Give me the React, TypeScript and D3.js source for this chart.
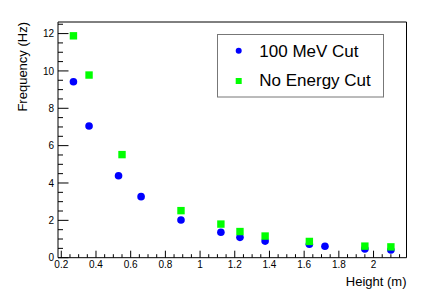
import React from "react";
import * as d3 from "d3";

const cutX = [0.27, 0.36, 0.53, 0.66, 0.89, 1.12, 1.23, 1.375, 1.63, 1.72, 1.95, 2.1];
const cutY = [9.42, 7.05, 4.39, 3.27, 2.02, 1.36, 1.09, 0.89, 0.72, 0.61, 0.47, 0.41];
const noCutX = [0.27, 0.36, 0.55, 0.89, 1.12, 1.23, 1.375, 1.63, 1.95, 2.1];
const noCutY = [11.88, 9.78, 5.52, 2.52, 1.8, 1.4, 1.16, 0.87, 0.62, 0.58];
const xTickLabels = [0.2, 0.4, 0.6, 0.8, 1, 1.2, 1.4, 1.6, 1.8, 2];
const yTickLabels = [0, 2, 4, 6, 8, 10, 12];
const seriesNames = ["100 MeV Cut", "No Energy Cut"];

const W = 436;
const H = 295;
const L = 58;
const R = 406.5;
const T = 22;
const B = 257.7;
const FONT = "'Liberation Sans', Arial, Helvetica, sans-serif";

export default function App() {
  const x = d3.scaleLinear().domain([0.181, 2.19]).range([L, R]);
  const y = d3.scaleLinear().domain([0, 12.62]).range([B, T]);

  const xMinor = d3.range(0.2, 2.19, 0.05).filter((v) => v <= 2.19);
  const yMinor = d3.range(0, 12.62, 0.5);

  return (
    <svg
      width={W}
      height={H}
      style={{ position: "absolute", left: 0, top: 0, background: "#fff" }}
      fontFamily={FONT}
    >
      <rect x={0} y={0} width={W} height={H} fill="#fff" />
      {/* frame */}
      <line x1={L} y1={T} x2={R} y2={T} stroke="#000" strokeWidth={1} />
      <line x1={R} y1={T} x2={R} y2={B} stroke="#000" strokeWidth={1} />
      <line x1={L} y1={T} x2={L} y2={B} stroke="#000" strokeWidth={1} />
      <line x1={L} y1={B} x2={R} y2={B} stroke="#000" strokeWidth={1} />

      {/* x ticks */}
      {xMinor.map((v, i) => {
        const major = Math.abs(v * 5 - Math.round(v * 5)) < 1e-6;
        const px = x(v);
        return (
          <line
            key={"xm" + i}
            x1={px}
            x2={px}
            y1={B}
            y2={B - (major ? 7 : 3.5)}
            stroke="#000"
            strokeWidth={1}
          />
        );
      })}
      {xTickLabels.map((v) => (
        <text
          key={"xl" + v}
          x={x(v)}
          y={B + 10}
          fontSize={10}
          textAnchor="middle"
          fill="#000"
        >
          {String(v)}
        </text>
      ))}

      {/* y ticks */}
      {yMinor.map((v, i) => {
        const major = Math.abs(v / 2 - Math.round(v / 2)) < 1e-6;
        const py = y(v);
        return (
          <line
            key={"ym" + i}
            x1={L}
            x2={L + (major ? 10.5 : 5)}
            y1={py}
            y2={py}
            stroke="#000"
            strokeWidth={1}
          />
        );
      })}
      {yTickLabels.map((v) => (
        <text
          key={"yl" + v}
          x={L - 4}
          y={y(v) + 3.6}
          fontSize={10}
          textAnchor="end"
          fill="#000"
        >
          {String(v)}
        </text>
      ))}

      {/* axis titles */}
      <text x={R} y={285.5} fontSize={13} textAnchor="end" fill="#000">
        Height (m)
      </text>
      <text
        transform={`translate(26.5, ${T}) rotate(-90)`}
        fontSize={13}
        textAnchor="end"
        fill="#000"
      >
        Frequency (Hz)
      </text>

      {/* data */}
      {cutX.map((v, i) => (
        <circle key={"c" + i} cx={x(v)} cy={y(cutY[i])} r={3.8} fill="#0000ff" />
      ))}
      {noCutX.map((v, i) => (
        <rect
          key={"s" + i}
          x={x(v) - 3.7}
          y={y(noCutY[i]) - 3.7}
          width={7.4}
          height={7.4}
          fill="#00ff00"
        />
      ))}

      {/* legend */}
      <rect
        x={217.5}
        y={34.5}
        width={166}
        height={62.5}
        fill="#fff"
        stroke="#777"
        strokeWidth={1}
      />
      <circle cx={238.7} cy={50.7} r={3} fill="#0000ff" />
      <rect x={235.7} y={78} width={6} height={6} fill="#00ff00" />
      <text x={259.3} y={56.8} fontSize={17} fill="#000">
        {seriesNames[0]}
      </text>
      <text x={259.3} y={86} fontSize={17} fill="#000">
        {seriesNames[1]}
      </text>
    </svg>
  );
}
